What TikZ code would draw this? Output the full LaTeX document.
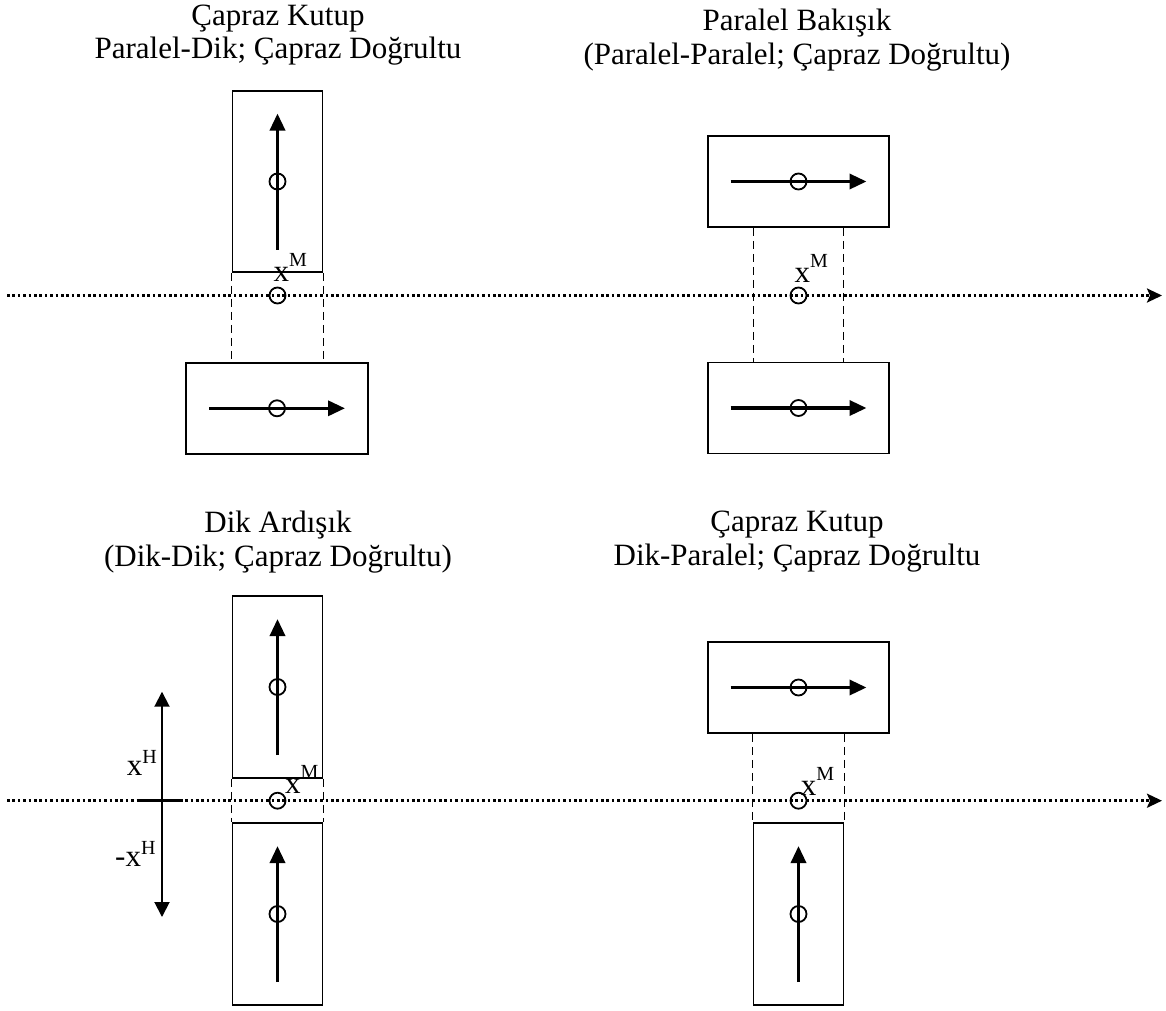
\documentclass[tikz,border=0pt]{standalone}
\usepackage{fontspec}
\setmainfont{Liberation Serif}
\usetikzlibrary{arrows.meta}
\newcommand\supr[2]{\raisebox{#1}{\fontsize{20}{20}\selectfont #2}}
\tikzset{
  tallbox/.style={draw, line width=1.9pt, inner sep=0pt, minimum width=90pt, minimum height=181pt},
  widebox/.style={draw, line width=1.9pt, inner sep=0pt, minimum width=181pt, minimum height=91pt},
  vec/.style={line width=3.4pt, -{Triangle[length=17pt,width=15pt]}},
  pivot/.style={circle, draw, line width=1.8pt, minimum size=16pt, inner sep=0pt},
  guide/.style={line width=1.8pt, dash pattern=on 8pt off 5pt},
  axisline/.style={line width=2.6pt, dash pattern=on 2.6pt off 2.8pt, -{Stealth[length=15pt,width=14pt,inset=3pt]}},
  title/.style={font=\fontsize{31}{35}\selectfont, inner sep=0pt, anchor=base},
  lab/.style={font=\fontsize{31}{35}\selectfont, inner sep=0pt, anchor=base west},
  hvec/.style={line width=1.9pt, {Triangle[length=15pt,width=15pt]}-{Triangle[length=15pt,width=15pt]}}
}
\begin{document}
\begin{tikzpicture}[x=1pt,y=-1pt]
\useasboundingbox (0,0) rectangle (1166,1010);
% axes
\coordinate (a1s) at (7,295.5);
\coordinate (a1e) at (1162,295.5);
\coordinate (a2s) at (7,800.7);
\coordinate (a2e) at (1162,800.7);
\draw[axisline] (a1s) -- (a1e);
\draw[axisline] (a2s) -- (a2e);

% ---------- top left ----------
\node[title] (tlA) at (278,25) {Çapraz Kutup};
\node[title] (tlB) at (278,58) {Paralel-Dik; Çapraz Doğrultu};
\node[tallbox] (tl1) at (277.5,181.5) {};
\node[widebox, minimum width=182pt] (tl2) at (277,408.3) {};
\draw[guide] (tl1.south west) -- (tl1.south west |- tl2.north);
\draw[guide] (tl1.south east) -- (tl1.south east |- tl2.north);
\draw[vec] ([yshift=-68pt]tl1.center) -- ([yshift=68pt]tl1.center);
\node[pivot] (tl1c) at (tl1.center) {};
\draw[vec] ([xshift=-68pt]tl2.center) -- ([xshift=68pt]tl2.center);
\node[pivot] (tl2c) at (tl2.center) {};
\node[pivot] (tlm) at (tl1.center |- a1s) {};
\node[lab] (tlx) at (273.3,281.7) {x\supr{15pt}{M}};

% ---------- top right ----------
\node[title] (trA) at (797,30) {Paralel Bakışık};
\node[title] (trB) at (797,64) {(Paralel-Paralel; Çapraz Doğrultu)};
\node[widebox] (tr1) at (798.5,181.5) {};
\node[widebox] (tr2) at (798.5,408) {};
\draw[guide] ([xshift=-45pt]tr1.south) -- ([xshift=-45pt]tr2.north);
\draw[guide] ([xshift=45pt]tr1.south) -- ([xshift=45pt]tr2.north);
\draw[vec] ([xshift=-68pt]tr1.center) -- ([xshift=68pt]tr1.center);
\node[pivot] (tr1c) at (tr1.center) {};
\draw[vec] ([xshift=-68pt]tr2.center) -- ([xshift=68pt]tr2.center);
\node[pivot] (tr2c) at (tr2.center) {};
\node[pivot] (trm) at (tr1.center |- a1s) {};
\node[lab] (trx) at (794.3,282.7) {x\supr{15pt}{M}};

% ---------- bottom left ----------
\node[title] (blA) at (278,532) {Dik Ardışık};
\node[title] (blB) at (278,566) {(Dik-Dik; Çapraz Doğrultu)};
\node[tallbox, minimum height=182pt] (bl1) at (277.5,687) {};
\node[tallbox, minimum height=182pt] (bl2) at (277.5,914) {};
\draw[guide] (bl1.south west) -- (bl2.north west);
\draw[guide] (bl1.south east) -- (bl2.north east);
\draw[vec] ([yshift=-68pt]bl1.center) -- ([yshift=68pt]bl1.center);
\node[pivot] (bl1c) at (bl1.center) {};
\draw[vec] ([yshift=-68pt]bl2.center) -- ([yshift=68pt]bl2.center);
\node[pivot] (bl2c) at (bl2.center) {};
\node[pivot] (blm) at (bl1.center |- a2s) {};
\node[lab] (blx) at (285,793.3) {x\supr{15pt}{M}};
% x^H scale
\coordinate (hT) at (162,691.7);
\coordinate (hB) at (162,917);
\draw[hvec] (hT) -- (hB);
\coordinate (tkL) at (139.3,800.7);
\coordinate (tkR) at (183.3,800.7);
\draw[line width=2.7pt] (tkL) -- (tkR);
\node[lab] (hp) at (126.7,775) {x\supr{12pt}{H}};
\node[lab] (hn) at (115,866.7) {-x\supr{12pt}{H}};

% ---------- bottom right ----------
\node[title] (brA) at (797,531) {Çapraz Kutup};
\node[title] (brB) at (797,565) {Dik-Paralel; Çapraz Doğrultu};
\node[widebox] (br1) at (798.5,687.5) {};
\node[tallbox, minimum height=182pt] (br2) at (798.5,914) {};
\draw[guide] (br1.south -| br2.north west) -- (br2.north west);
\draw[guide] (br1.south -| br2.north east) -- (br2.north east);
\draw[vec] ([xshift=-68pt]br1.center) -- ([xshift=68pt]br1.center);
\node[pivot] (br1c) at (br1.center) {};
\draw[vec] ([yshift=-68pt]br2.center) -- ([yshift=68pt]br2.center);
\node[pivot] (br2c) at (br2.center) {};
\node[pivot] (brm) at (br1.center |- a2s) {};
\node[lab] (brx) at (800.7,795) {x\supr{15pt}{M}};
\end{tikzpicture}
\end{document}
